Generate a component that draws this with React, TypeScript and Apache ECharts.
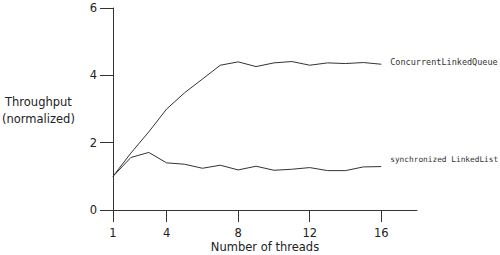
import React, { useEffect, useRef } from "react";
import * as echarts from "echarts";

const threads = [1, 2, 3, 4, 5, 6, 7, 8, 9, 10, 11, 12, 13, 14, 15, 16];
const concurrentQueue = [1.0, 1.69, 2.32, 3.0, 3.48, 3.89, 4.3, 4.4, 4.26, 4.37, 4.41, 4.3, 4.37, 4.35, 4.38, 4.33];
const syncList = [1.0, 1.56, 1.71, 1.4, 1.36, 1.24, 1.33, 1.19, 1.3, 1.18, 1.21, 1.26, 1.17, 1.17, 1.28, 1.29];
const xTicks = [1, 4, 8, 12, 16];
const seriesNames = ["ConcurrentLinkedQueue", "synchronized LinkedList"];

export default function App() {
  const ref = useRef<HTMLDivElement>(null);
  useEffect(() => {
    if (!ref.current) return;
    const chart = echarts.init(ref.current, null, { renderer: "svg" });
    const font = "DejaVu Sans";
    const mk = (name: string, vals: number[], off: number[], fs: number) => ({
      name,
      type: "line",
      data: threads.map((t, i) => [t, vals[i]]),
      showSymbol: false,
      lineStyle: { color: "#333", width: 1 },
      endLabel: {
        show: true,
        formatter: name,
        distance: 9,
        offset: off,
        fontFamily: "DejaVu Sans Mono",
        fontSize: fs,
        color: "#333",
      },
    });
    chart.setOption({
      animation: false,
      grid: { left: 113, right: 83, top: 8, bottom: 45, containLabel: false, outerBoundsMode: "none" },
      xAxis: {
        type: "value",
        min: 1,
        max: 18,
        name: "Number of threads",
        nameLocation: "middle",
        nameGap: 31,
        nameMoveOverlap: false,
        nameTextStyle: { fontFamily: font, fontSize: 11.5, lineHeight: 12, color: "#222" },
        axisLine: { lineStyle: { color: "#333", width: 1 } },
        axisTick: { show: true, inside: false, length: 12, customValues: xTicks, lineStyle: { color: "#333" } },
        axisLabel: { customValues: xTicks, margin: 17, fontFamily: font, fontSize: 11.5, color: "#222" },
        splitLine: { show: false },
      },
      yAxis: {
        type: "value",
        min: 0,
        max: 6,
        interval: 2,
        axisLine: { show: true, lineStyle: { color: "#333", width: 1 } },
        axisTick: { show: true, length: 13, lineStyle: { color: "#333" } },
        axisLabel: { margin: 16, fontFamily: font, fontSize: 11.5, color: "#222" },
        splitLine: { show: false },
      },
      graphic: [
        {
          type: "text",
          left: 2,
          top: 93,
          style: {
            text: "Throughput\n(normalized)",
            fontFamily: font,
            fontSize: 11.5,
            lineHeight: 17,
            fill: "#222",
            textAlign: "center",
          },
        },
      ],
      series: [mk(seriesNames[0], concurrentQueue, [0, -2], 8.5), mk(seriesNames[1], syncList, [0, -7], 7.8)],
    });
    return () => chart.dispose();
  }, []);
  return <div ref={ref} style={{ width: 500, height: 255, position: "absolute", left: 0, top: 0, background: "#fff" }} />;
}
